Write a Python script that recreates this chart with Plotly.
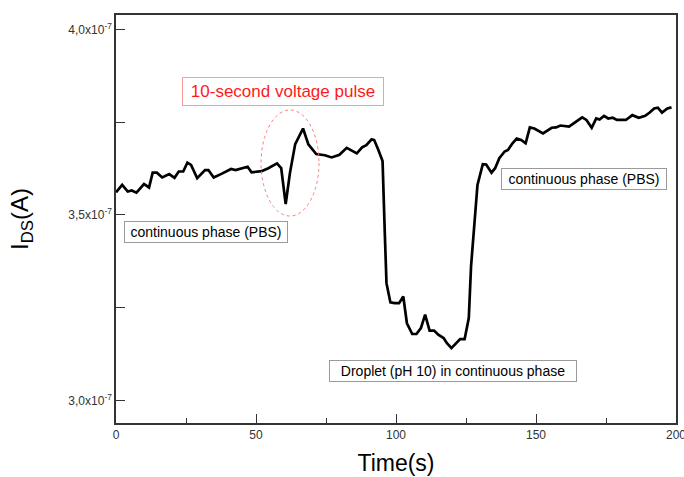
import plotly.graph_objects as go

# ---- data ----
time_s = [0, 2.2, 4.2, 5.6, 7.3, 10, 11.8, 13.1, 14.6, 16.5, 19, 20.9, 22.4, 24, 25.5, 26.8,
          29, 31.8, 33, 34.9, 38, 41.1, 42.7, 45, 47, 48.4, 52, 54.4, 57.5, 59, 60.6, 62.1,
          64, 66.8, 68.7, 71.5, 74.6, 77, 79.8, 82.4, 84, 86, 87.9, 89.4, 91.3, 92.2, 93.6,
          95.2, 96, 96.6, 98, 99.5, 101.1, 102.6, 103.9, 105.8, 107.3, 108.9, 110.4, 112,
          113.6, 115.1, 117, 118.2, 119.8, 121.3, 122.9, 124.5, 126, 126.8, 127.9, 129.1,
          131, 132.2, 134.1, 135.4, 136.9, 138.8, 140, 141.6, 143.1, 144.7, 146.3, 147.8,
          149.4, 152.5, 155.6, 157.2, 158.7, 161.8, 164.2, 166.5, 168, 169.9, 171.5, 172.7,
          174.3, 175.8, 177.4, 178.9, 182.1, 184.4, 186.7, 189, 190.6, 192.2, 193.5, 195,
          196.9, 198.4]
# drain-source current in units of 1e-7 A
ids_e7 = [3.561, 3.581, 3.563, 3.566, 3.560, 3.583, 3.574, 3.614, 3.614, 3.601, 3.610, 3.600,
          3.617, 3.617, 3.641, 3.635, 3.599, 3.621, 3.621, 3.601, 3.612, 3.624, 3.621, 3.626,
          3.630, 3.615, 3.618, 3.626, 3.639, 3.626, 3.529, 3.612, 3.691, 3.733, 3.690, 3.664,
          3.661, 3.655, 3.662, 3.681, 3.675, 3.666, 3.682, 3.688, 3.704, 3.702, 3.677, 3.645,
          3.451, 3.316, 3.264, 3.262, 3.262, 3.280, 3.208, 3.179, 3.179, 3.195, 3.231, 3.188,
          3.188, 3.177, 3.168, 3.154, 3.141, 3.154, 3.165, 3.165, 3.222, 3.361, 3.469, 3.581,
          3.637, 3.636, 3.614, 3.626, 3.653, 3.671, 3.675, 3.693, 3.706, 3.702, 3.693, 3.736,
          3.733, 3.720, 3.735, 3.736, 3.741, 3.738, 3.751, 3.763, 3.756, 3.735, 3.760, 3.757,
          3.767, 3.760, 3.762, 3.756, 3.756, 3.769, 3.762, 3.767, 3.776, 3.787, 3.789, 3.776,
          3.787, 3.790]
ids_A = [v * 1e-7 for v in ids_e7]

x_tickvals = [0, 50, 100, 150, 200]
x_ticktext = ["0", "50", "100", "150", "200"]
y_tickvals = [3.0e-7, 3.5e-7, 4.0e-7]
y_ticktext = ["3,0x10<sup>-7</sup>", "3,5x10<sup>-7</sup>", "4,0x10<sup>-7</sup>"]
y_minorvals = [3.25e-7, 3.75e-7]

label_left = "continuous phase (PBS)"
label_right = "continuous phase (PBS)"
label_drop = "Droplet (pH 10) in continuous phase"
label_pulse = "10-second voltage pulse"

FONT = "Liberation Sans, Arial, sans-serif"
AX = "#333333"

fig = go.Figure()
fig.add_trace(go.Scatter(x=time_s, y=ids_A, mode="lines",
                         line=dict(color="black", width=2.7), showlegend=False,
                         hoverinfo="skip"))

fig.update_layout(
    width=684, height=477,
    margin=dict(l=116, r=8, t=15, b=54),
    paper_bgcolor="white", plot_bgcolor="white",
    font=dict(family=FONT, color=AX),
    xaxis=dict(range=[0, 200], tickmode="array", tickvals=x_tickvals, ticktext=x_ticktext,
               ticks="inside", ticklen=9, ticklabeloverflow="allow",
               tickwidth=1, tickcolor=AX, showline=True, linecolor=AX, linewidth=1.5,
               mirror=True, showgrid=False, zeroline=False,
               tickfont=dict(size=12, color=AX, family=FONT),
               minor=dict(dtick=25, tick0=0, ticks="inside", ticklen=5, tickcolor=AX,
                          showgrid=False),
               title=dict(text="Time(s)", font=dict(size=23, color="black", family=FONT),
                          standoff=14),
               automargin=False),
    yaxis=dict(range=[2.939e-7, 4.039e-7], tickmode="array", tickvals=y_tickvals,
               ticktext=y_ticktext, ticks="inside", ticklen=9, tickwidth=1,
               tickcolor=AX, showline=True, linecolor=AX, linewidth=1.5, mirror=True,
               showgrid=False, zeroline=False,
               tickfont=dict(size=12, color=AX, family=FONT),
               minor=dict(tickmode="array", tickvals=y_minorvals, ticks="inside",
                          ticklen=9, tickcolor=AX, showgrid=False),
               title=dict(text="I<sub>DS</sub>(A)", font=dict(size=24, color="black", family=FONT),
                          standoff=33),
               automargin=False),
)

box = dict(bgcolor="white", bordercolor="#9a9a9a", borderwidth=1, borderpad=2,
           font=dict(size=14, color="black", family=FONT), showarrow=False,
           xref="x", yref="y")
fig.add_annotation(text=label_left, x=32.3, y=3.454e-7, width=158, height=16, **box)
fig.add_annotation(text=label_right, x=167.1, y=3.598e-7, width=160, height=16, **box)
fig.add_annotation(text=label_drop, x=120.2, y=3.080e-7, width=242, height=16, **box)
fig.add_annotation(text=label_pulse, x=59.5, y=3.834e-7, width=194, height=21,
                   bgcolor="white", bordercolor="#ff9a9a", borderwidth=1, borderpad=3,
                   font=dict(size=17, color="#ff1a1a", family=FONT), showarrow=False,
                   xref="x", yref="y")

fig.add_shape(type="circle", xref="x", yref="y", x0=51.8, x1=72.5, y0=3.497e-7, y1=3.783e-7,
              line=dict(color="#ff7a7a", width=1, dash="dot"), layer="above")

fig.write_html("out.html")
